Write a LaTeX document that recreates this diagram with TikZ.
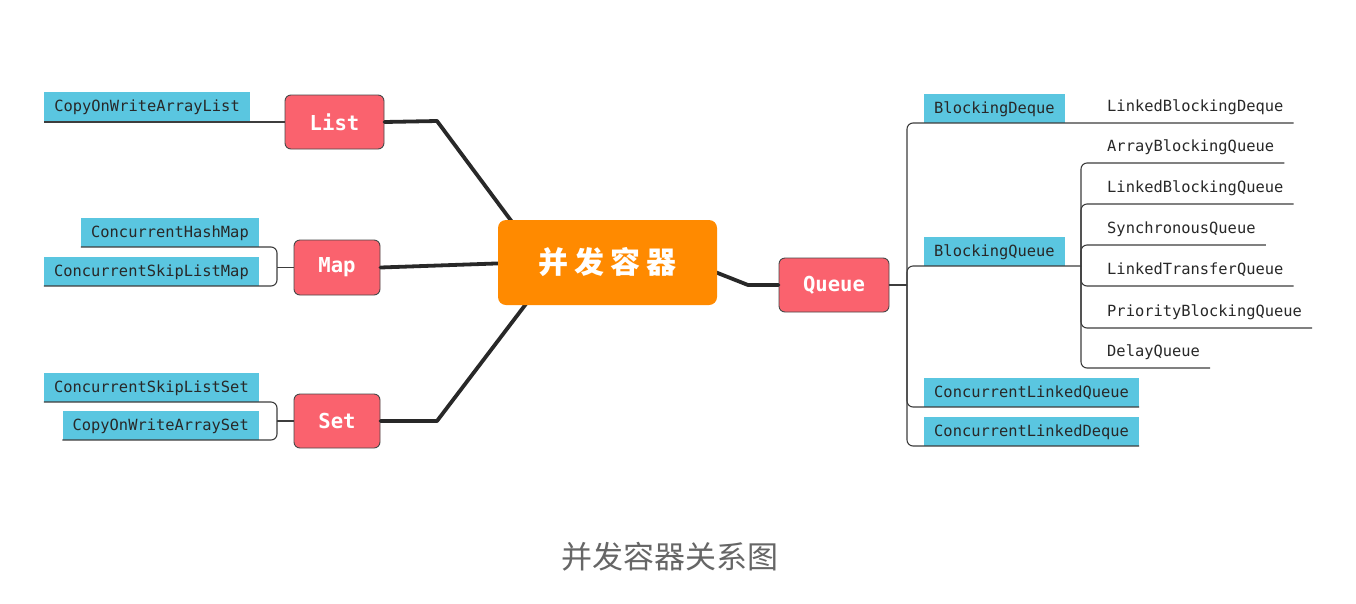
\documentclass[tikz,border=0pt]{standalone}
\usepackage{fontspec}
\setmonofont{DejaVu Sans Mono}
\newfontfamily\cjkfont{Noto Sans CJK SC}
\newfontfamily\boxfont{DejaVu Sans Mono}
\usetikzlibrary{calc}
\definecolor{leafcyan}{RGB}{90,198,224}
\definecolor{boxred}{RGB}{250,98,110}
\definecolor{rootorange}{RGB}{255,138,0}
\definecolor{linedark}{RGB}{40,40,40}
\definecolor{capgray}{RGB}{102,102,102}
\begin{document}
\begin{tikzpicture}[x=1pt,y=-1pt,
 root/.style={fill=rootorange, rounded corners=8pt, minimum width=219pt, minimum height=85pt, inner sep=0pt, text=white, font=\cjkfont\bfseries\fontsize{30}{30}\selectfont},
 cat/.style={fill=boxred, draw=linedark!85, line width=0.9pt, rounded corners=6pt, minimum height=54pt, inner sep=0pt, text=white, font=\boxfont\bfseries\fontsize{20.6}{21}\selectfont},
 leafbox/.style={fill=leafcyan, inner xsep=10pt, inner ysep=7.75pt, text height=12pt, text depth=1.5pt, text=linedark, font=\ttfamily\fontsize{15.4}{16}\selectfont},
 leaftext/.style={inner xsep=10pt, inner ysep=0pt, text height=12pt, text depth=11pt, text=linedark, font=\ttfamily\fontsize{15.4}{16}\selectfont},
 trunk/.style={line width=3.8pt, draw=linedark, line join=round, line cap=round},
 twig/.style={line width=1.1pt, draw=linedark!90, rounded corners=6pt},
]
\fill[white] (0,0) rectangle (1356,603);
\useasboundingbox (0,0) rectangle (1356,603);

% category boxes
\node[cat, minimum width=99pt] (list) at (334.5,122) {List};
\node[cat, minimum width=86pt, minimum height=55pt] (map) at (337,267.5) {Map};
\node[cat, minimum width=86pt] (set) at (337,421) {Set};
\node[cat, minimum width=110pt] (queue) at (834,285) {Queue};

% trunk connectors (behind root)
\coordinate (lj) at (437,121);
\coordinate (lr) at (518,230);
\coordinate (sj) at (437,421);
\coordinate (sr) at (532,296);
\coordinate (qr) at (705,268);
\coordinate (qk) at (748,285);
\coordinate (mr) at (510,263);
\draw[trunk] (list.east) -- (lj) -- (lr);
\draw[trunk] (map.east) -- (mr);
\draw[trunk] (set.east) -- (sj) -- (sr);
\draw[trunk] (qr) -- (qk) -- (queue.west);

\node[root] (root) at (607.5,262.5) {并\kern6pt 发\kern6pt 容\kern6pt 器};

% left leaves
\node[leafbox, anchor=south east] (cowal) at (250,121) {CopyOnWriteArrayList};
\node[leafbox, anchor=south east] (chm) at (259,247) {ConcurrentHashMap};
\node[leafbox, anchor=south east] (cslm) at (259,286) {ConcurrentSkipListMap};
\node[leafbox, anchor=south east] (csls) at (259,402) {ConcurrentSkipListSet};
\node[leafbox, anchor=south east] (cowas) at (259,440) {CopyOnWriteArraySet};

\coordinate (mj) at (277,267.5);
\coordinate (tj) at (277,421);
\draw[twig] (list.west) -- (list.west -| cowal.south west);
\draw[twig] (map.west) -- (mj);
\draw[twig] (mj) |- (chm.south west);
\draw[twig] (mj) |- (cslm.south west);
\draw[twig] (set.west) -- (tj);
\draw[twig] (tj) |- (csls.south west);
\draw[twig] (tj) |- (cowas.south west);

% right leaves
\node[leafbox, anchor=south west] (bd) at (924,123) {BlockingDeque};
\node[leafbox, anchor=south west] (bq) at (924,266) {BlockingQueue};
\node[leafbox, anchor=south west] (clq) at (924,407) {ConcurrentLinkedQueue};
\node[leafbox, anchor=south west] (cld) at (924,446) {ConcurrentLinkedDeque};

\node[leaftext, anchor=south west] (lbd) at (1097,123) {LinkedBlockingDeque};
\node[leaftext, anchor=south west] (abq) at (1097,163) {ArrayBlockingQueue};
\node[leaftext, anchor=south west] (lbq) at (1097,204) {LinkedBlockingQueue};
\node[leaftext, anchor=south west] (sq) at (1097,245) {SynchronousQueue};
\node[leaftext, anchor=south west] (ltq) at (1097,286) {LinkedTransferQueue};
\node[leaftext, anchor=south west] (pbq) at (1097,328) {PriorityBlockingQueue};
\node[leaftext, anchor=south west] (dq) at (1097,368) {DelayQueue};

\coordinate (qj) at (907,285);
\coordinate (bj) at (1081,266);
\draw[twig] (queue.east) -- (qj);
\draw[twig] (qj) |- (lbd.south east);
\draw[twig] (qj) |- (bj);
\draw[twig] (qj) |- (clq.south east);
\draw[twig] (qj) |- (cld.south east);
\draw[twig] (bj) |- (abq.south east);
\draw[twig] (bj) |- (lbq.south east);
\draw[twig] (bj) |- (sq.south east);
\draw[twig] (bj) |- (ltq.south east);
\draw[twig] (bj) |- (pbq.south east);
\draw[twig] (bj) |- (dq.south east);

% caption
\node[text=capgray, font=\cjkfont\fontsize{31}{31}\selectfont] (cap) at (670,557) {并发容器关系图};
\end{tikzpicture}
\end{document}
